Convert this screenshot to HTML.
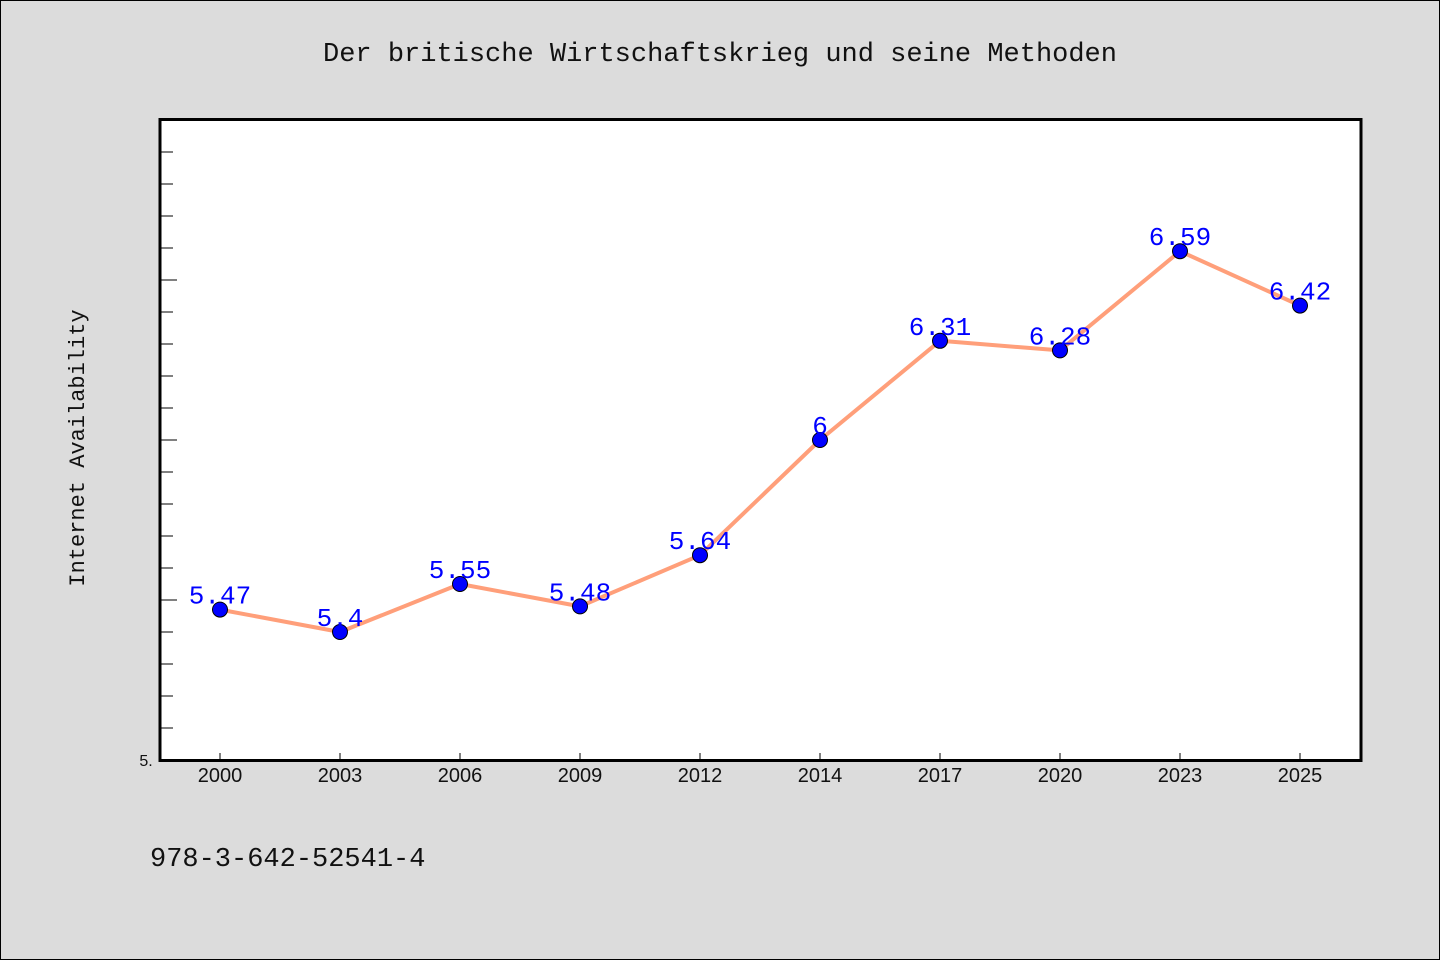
<!DOCTYPE html>
<html><head><meta charset="utf-8"><style>
html,body{margin:0;padding:0;background:#dcdcdc;}
svg{display:block;}
</style></head><body>
<svg width="1440" height="960" xmlns="http://www.w3.org/2000/svg">
<rect x="0.5" y="0.5" width="1439" height="959" fill="#dcdcdc" stroke="#000" stroke-width="1"/>
<text x="720" y="61" text-anchor="middle" font-family="Liberation Mono, monospace" font-size="27" fill="#111">Der britische Wirtschaftskrieg und seine Methoden</text>
<rect x="160" y="119.5" width="1201" height="641" fill="#fff" stroke="#000" stroke-width="3"/>
<text transform="translate(84,448) rotate(-90)" text-anchor="middle" font-family="Liberation Mono, monospace" font-size="22" fill="#111">Internet Availability</text>
<text x="150" y="866" font-family="Liberation Mono, monospace" font-size="27" fill="#111">978-3-642-52541-4</text>
<text x="146" y="766" text-anchor="middle" font-family="Liberation Sans, sans-serif" font-size="16" fill="#111">5.</text>
<g id="yticks"></g><g id="xticks"></g><g id="series"></g>
</svg>
<script>
const categories = ["2000","2003","2006","2009","2012","2014","2017","2020","2023","2025"];
const values = [5.47,5.4,5.55,5.48,5.64,6,6.31,6.28,6.59,6.42];
const labels = ["5.47","5.4","5.55","5.48","5.64","6","6.31","6.28","6.59","6.42"];
const NS="http://www.w3.org/2000/svg";
const yMin=5,yMax=7,plotTop=120,plotBot=760;
const yS=v=>plotBot-(v-yMin)/(yMax-yMin)*(plotBot-plotTop);
const xS=i=>220+i*120;
function mk(t,a,p){const e=document.createElementNS(NS,t);for(const k in a)e.setAttribute(k,a[k]);p.appendChild(e);return e;}
const yt=document.getElementById('yticks');
for(let k=1;k<20;k++){const v=yMin+k*0.1;const major=k%5===0;
 const t=mk('line',{x1:161.5,x2:major?177:173,y1:yS(v),y2:yS(v),stroke:'#000','stroke-width':1},yt);
 
 }
const xt=document.getElementById('xticks');
categories.forEach((c,i)=>{
 const l=mk('line',{x1:xS(i),x2:xS(i),y1:759,y2:753,stroke:'#000','stroke-width':1},xt);
 
 
 const t=mk('text',{x:xS(i),y:782,'text-anchor':'middle','font-family':'Liberation Sans, sans-serif','font-size':20,fill:'#111'},xt);
 t.textContent=c;
 
 });
const s=document.getElementById('series');
const pl=mk('polyline',{points:values.map((v,i)=>xS(i)+','+yS(v)).join(' '),fill:'none',stroke:'#ff9f7a','stroke-width':4,'stroke-linejoin':'round'},s);


values.forEach((v,i)=>{
 const c=mk('circle',{cx:xS(i),cy:yS(v),r:7.5,fill:'#0000ff',stroke:'#000','stroke-width':1},s);
 
 
 const t=mk('text',{x:xS(i),y:yS(v)-6,'text-anchor':'middle','font-family':'Liberation Mono, monospace','font-size':26,fill:'#0000ff'},s);
 t.textContent=labels[i];
 
 });
</script>
</body></html>
